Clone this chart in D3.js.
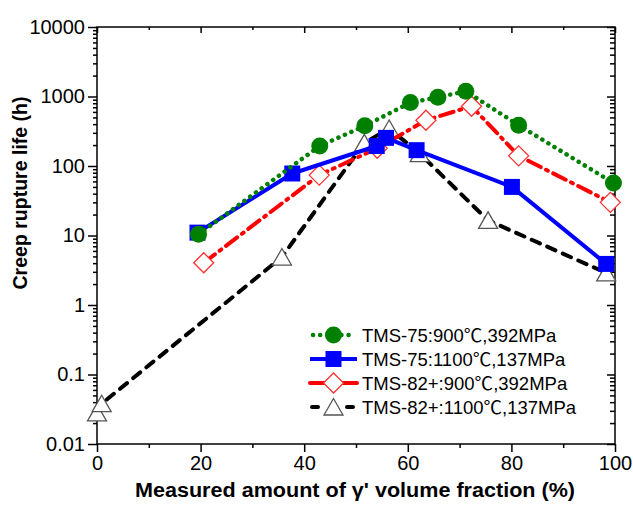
<!DOCTYPE html>
<html>
<head>
<meta charset="utf-8">
<script src="https://cdn.jsdelivr.net/npm/d3@7"></script>
<style>
  body { margin: 0; background: #fff; }
  text { font-family: Arial, "Liberation Sans", "Noto Sans CJK SC", sans-serif; }
  tspan.cjk { font-family: "Noto Sans CJK SC", sans-serif; }
</style>
</head>
<body>
<div class="chart"></div>
<script>
"use strict";

// values
const seriesNames = [
  "TMS-75:900℃,392MPa",
  "TMS-75:1100℃,137MPa",
  "TMS-82+:900℃,392MPa",
  "TMS-82+:1100℃,137MPa"
];
const greenX = [19.6, 43.0, 51.7, 60.5, 65.8, 71.2, 81.4, 99.7];
const greenY = [10.4, 194, 378, 817, 975, 1190, 386, 57];
const blueX = [19.4, 37.7, 54.0, 55.8, 61.7, 80.1, 98.3];
const blueY = [11, 78, 194, 254, 169, 50, 3.9];
const redX = [20.6, 42.9, 54.1, 63.5, 72.3, 81.4, 99.1];
const redY = [4.05, 74, 180, 455, 724, 140, 30];
const blackX = [0, 0.9, 35.7, 51.6, 56.4, 62.3, 75.5, 98.3];
const blackY = [0.028, 0.038, 4.9, 215, 346, 151, 16.5, 2.9];

const xTicks = [0, 20, 40, 60, 80, 100];
const xMinor = [10, 30, 50, 70, 90];
const yTicks = [0.01, 0.1, 1, 10, 100, 1000, 10000];
const yTickLabels = ["0.01", "0.1", "1", "10", "100", "1000", "10000"];

const W = 633, H = 511;
const margin = { top: 27, right: 18, bottom: 67, left: 97 };
const width = W - margin.left - margin.right;
const height = H - margin.top - margin.bottom;

const svgRoot = d3.select(".chart").append("svg")
  .attr("width", W).attr("height", H);
const svg = svgRoot.append("g")
  .attr("transform", `translate(${margin.left},${margin.top})`);

const x = d3.scaleLinear().domain([0, 100]).range([0, width]);
const y = d3.scaleLog().domain([0.01, 10000]).range([height, 0]);

// minor log ticks 2..9 in each decade
const yMinor = [];
for (let e = -2; e < 4; e++) {
  for (let m = 2; m <= 9; m++) yMinor.push(m * Math.pow(10, e));
}

function styleAxis(g) {
  g.select(".domain").remove();
  g.selectAll(".tick line").attr("stroke", "#000").attr("stroke-width", 1.5);
  g.selectAll(".tick text")
    .style("font-size", "20px")
    .attr("fill", "#000");
}

// bottom (outward)
svg.append("g").attr("transform", `translate(0,${height})`)
  .call(d3.axisBottom(x).tickValues(xTicks).tickSize(8).tickPadding(4).tickFormat(d3.format("d")))
  .call(styleAxis);
svg.append("g").attr("transform", `translate(0,${height})`)
  .call(d3.axisBottom(x).tickValues(xMinor).tickSize(4).tickFormat(""))
  .call(styleAxis);
// top (inward)
svg.append("g")
  .call(d3.axisTop(x).tickValues(xTicks).tickSize(-6).tickFormat(""))
  .call(styleAxis);
svg.append("g")
  .call(d3.axisTop(x).tickValues(xMinor).tickSize(-3).tickFormat(""))
  .call(styleAxis);
// left (outward)
svg.append("g")
  .call(d3.axisLeft(y).tickValues(yTicks).tickSize(9).tickPadding(3)
    .tickFormat((d, i) => yTickLabels[i]))
  .call(styleAxis);
svg.append("g")
  .call(d3.axisLeft(y).tickValues(yMinor).tickSize(4).tickFormat(""))
  .call(styleAxis);
// right (inward)
svg.append("g").attr("transform", `translate(${width},0)`)
  .call(d3.axisRight(y).tickValues(yTicks).tickSize(-8).tickFormat(""))
  .call(styleAxis);
svg.append("g").attr("transform", `translate(${width},0)`)
  .call(d3.axisRight(y).tickValues(yMinor).tickSize(-5).tickFormat(""))
  .call(styleAxis);

// frame
svg.append("rect")
  .attr("width", width).attr("height", height)
  .attr("fill", "none").attr("stroke", "#000").attr("stroke-width", 1.5);

// axis titles
svg.append("text")
  .attr("x", 258).attr("y", height + 53)
  .attr("text-anchor", "middle")
  .attr("font-size", 20).attr("font-weight", "bold")
  .attr("textLength", 440).attr("lengthAdjust", "spacingAndGlyphs")
  .text("Measured amount of γ' volume fraction (%)");

svg.append("text")
  .attr("transform", `translate(${-70},${166}) rotate(-90)`)
  .attr("text-anchor", "middle")
  .attr("font-size", 20).attr("font-weight", "bold")
  .attr("textLength", 193).attr("lengthAdjust", "spacingAndGlyphs")
  .text("Creep rupture life (h)");

// series styles
const series = [
  { name: seriesNames[3], xs: blackX, ys: blackY, color: "#000", dash: "9,8", marker: "triangle", cap: "round" },
  { name: seriesNames[2], xs: redX, ys: redY, color: "#ff0000", dash: "14,6,2,6", marker: "diamond", cap: "round" },
  { name: seriesNames[1], xs: blueX, ys: blueY, color: "#0000ff", dash: null, marker: "square", cap: "butt" },
  { name: seriesNames[0], xs: greenX, ys: greenY, color: "#008000", dash: "0.1,7", marker: "circle", cap: "round" }
];

function markerPath(type) {
  switch (type) {
    case "circle": return "M-8.5,0a8.5,8.5 0 1,0 17,0a8.5,8.5 0 1,0 -17,0Z";
    case "square": return "M-8,-8H8V8H-8Z";
    case "diamond": return "M0,-10L10,0L0,10L-10,0Z";
    case "triangle": return "M0,-8.5L9.5,8L-9.5,8Z";
  }
}

function drawMarker(sel, s) {
  const p = sel.append("path").attr("d", markerPath(s.marker));
  if (s.marker === "circle") p.attr("fill", "#008000");
  if (s.marker === "square") p.attr("fill", "#0000ff");
  if (s.marker === "diamond") p.attr("fill", "#fff").attr("stroke", "#ff3030").attr("stroke-width", 1.3);
  if (s.marker === "triangle") p.attr("fill", "#fff").attr("stroke", "#555").attr("stroke-width", 1.3);
}

const line = d3.line().x((d) => x(d[0])).y((d) => y(d[1]));

series.forEach((s) => {
  const pts = s.xs.map((v, i) => [v, s.ys[i]]);
  const g = svg.append("g");
  g.append("path")
    .datum(pts)
    .attr("d", line)
    .attr("fill", "none")
    .attr("stroke", s.color)
    .attr("stroke-width", s.marker === "circle" ? 4.5 : 4)
    .attr("stroke-dasharray", s.dash)
    .attr("stroke-linecap", s.cap)
    .attr("stroke-linejoin", "round");
  g.selectAll(".m")
    .data(pts)
    .join("g")
    .attr("transform", (d) => `translate(${x(d[0])},${y(d[1])})`)
    .each(function () { drawMarker(d3.select(this), s); });
});

// legend
const legendRows = [series[3], series[2], series[1], series[0]];
const legend = svgRoot.append("g").attr("transform", "translate(310,335)");
legendRows.forEach((s, i) => {
  const row = legend.append("g").attr("transform", `translate(0,${i * 24})`);
  row.append("line")
    .attr("x1", s.marker === "circle" ? 3 : 0).attr("x2", s.marker === "circle" ? 45 : 47)
    .attr("stroke", s.color)
    .attr("stroke-width", s.marker === "circle" ? 4.5 : 4)
    .attr("stroke-dasharray", s.marker === "circle" ? "0.1,7" : s.marker === "triangle" ? "6,29" : null)
    .attr("stroke-dashoffset", s.marker === "triangle" ? -2 : 0)
    .attr("stroke-linecap", s.cap);
  const m = row.append("g").attr("transform", "translate(23.5,0)");
  drawMarker(m, s);
  const t = row.append("text")
    .attr("x", 52).attr("y", 6.5)
    .attr("font-size", 18.5);
  const parts = s.name.split("℃");
  t.append("tspan").text(parts[0]);
  t.append("tspan").attr("class", "cjk").text("℃");
  t.append("tspan").text(parts[1]);
});
</script>
</body>
</html>
